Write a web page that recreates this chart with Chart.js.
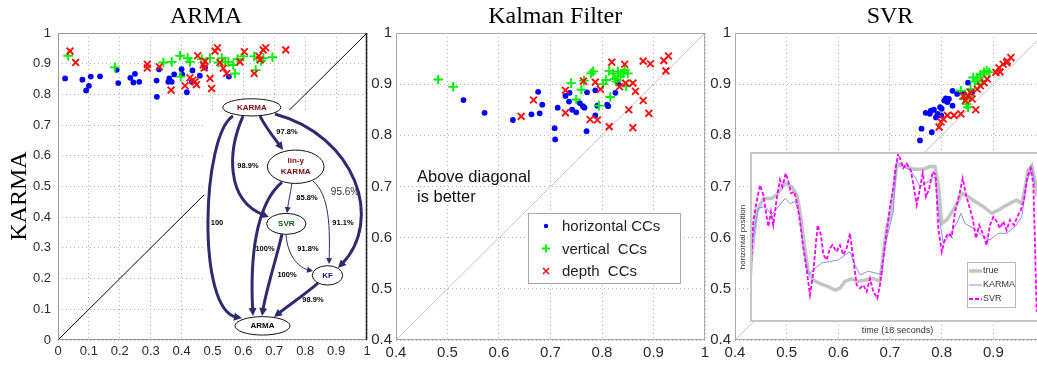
<!DOCTYPE html>
<html>
<head>
<meta charset="utf-8">
<script src="https://cdn.jsdelivr.net/npm/chart.js@4.4.1/dist/chart.umd.min.js"></script>
<style>
  html, body { margin: 0; padding: 0; background: #fff; }
  #wrap { position: relative; width: 1037px; height: 367px; overflow: hidden; }
  canvas { position: absolute; top: 0; }
</style>
</head>
<body>
<div id="wrap">
  <canvas id="armaChart" width="376" height="367" style="left:0px"></canvas>
  <canvas id="kfChart" width="348" height="367" style="left:366px"></canvas>
  <canvas id="svrChart" width="350" height="367" style="left:705px"></canvas>
  <canvas id="insetChart" width="310" height="186" style="left:735px;top:152px"></canvas>
</div>
<script>
// ---- data: [x, y] = [other method CC, KARMA CC] ----
const panelTitles = ["ARMA", "Kalman Filter", "SVR"];
const legendLabels = ["horizontal CCs", "vertical  CCs", "depth  CCs"];

const armaHoriz = [[0.023,0.852],[0.079,0.848],[0.100,0.828],[0.091,0.813],[0.106,0.858],[0.136,0.859],[0.190,0.880],[0.195,0.837],[0.234,0.854],[0.244,0.839],[0.249,0.867],[0.263,0.841],[0.319,0.845],[0.320,0.792],[0.327,0.882],[0.357,0.841],[0.360,0.852],[0.368,0.841],[0.376,0.865],[0.400,0.882],[0.402,0.865],[0.417,0.807],[0.433,0.841],[0.435,0.878],[0.459,0.861],[0.476,0.887],[0.553,0.858]];
const armaVert = [[0.033,0.926],[0.184,0.888],[0.341,0.904],[0.368,0.906],[0.395,0.926],[0.397,0.858],[0.420,0.918],[0.427,0.906],[0.465,0.915],[0.492,0.918],[0.519,0.904],[0.530,0.918],[0.541,0.906],[0.551,0.906],[0.567,0.896],[0.573,0.868],[0.581,0.915],[0.600,0.924],[0.635,0.924],[0.640,0.879],[0.657,0.909],[0.665,0.918],[0.694,0.921]];
const armaDepth = [[0.039,0.941],[0.057,0.904],[0.289,0.898],[0.289,0.886],[0.328,0.890],[0.366,0.814],[0.411,0.828],[0.427,0.854],[0.443,0.841],[0.448,0.832],[0.436,0.846],[0.452,0.926],[0.470,0.896],[0.473,0.886],[0.476,0.908],[0.492,0.852],[0.497,0.819],[0.508,0.941],[0.516,0.952],[0.524,0.904],[0.535,0.885],[0.546,0.868],[0.589,0.906],[0.603,0.939],[0.635,0.868],[0.654,0.912],[0.650,0.925],[0.664,0.945],[0.672,0.952],[0.737,0.945]];

const kfHoriz = [[0.531,0.869],[0.572,0.844],[0.627,0.830],[0.663,0.841],[0.676,0.885],[0.679,0.843],[0.684,0.860],[0.708,0.814],[0.709,0.792],[0.714,0.854],[0.729,0.877],[0.736,0.866],[0.737,0.883],[0.742,0.850],[0.750,0.845],[0.757,0.863],[0.763,0.857],[0.766,0.854],[0.770,0.808],[0.771,0.884],[0.787,0.888],[0.787,0.839],[0.791,0.858],[0.810,0.860],[0.812,0.857],[0.826,0.883],[0.831,0.902]];
const kfVert = [[0.482,0.909],[0.511,0.895],[0.740,0.902],[0.750,0.870],[0.760,0.889],[0.765,0.907],[0.779,0.921],[0.783,0.925],[0.794,0.858],[0.802,0.900],[0.808,0.908],[0.814,0.926],[0.816,0.875],[0.821,0.921],[0.825,0.910],[0.828,0.905],[0.831,0.925],[0.836,0.915],[0.841,0.921],[0.844,0.928],[0.847,0.896],[0.850,0.921]];
const kfDepth = [[0.643,0.837],[0.667,0.869],[0.729,0.888],[0.729,0.844],[0.764,0.906],[0.777,0.831],[0.787,0.904],[0.791,0.830],[0.797,0.890],[0.814,0.817],[0.819,0.943],[0.834,0.895],[0.844,0.939],[0.846,0.902],[0.852,0.850],[0.860,0.902],[0.860,0.815],[0.865,0.886],[0.880,0.868],[0.880,0.945],[0.891,0.843],[0.894,0.940],[0.920,0.946],[0.924,0.926],[0.929,0.955]];

const svrHoriz = [[0.758,0.790],[0.761,0.813],[0.781,0.806],[0.769,0.844],[0.777,0.842],[0.779,0.848],[0.785,0.850],[0.789,0.835],[0.792,0.842],[0.797,0.855],[0.799,0.839],[0.800,0.852],[0.805,0.868],[0.808,0.872],[0.811,0.865],[0.814,0.871],[0.821,0.887],[0.821,0.858],[0.830,0.881],[0.842,0.883],[0.851,0.903],[0.859,0.884]];
const svrVert = [[0.837,0.887],[0.843,0.871],[0.848,0.861],[0.851,0.855],[0.853,0.877],[0.856,0.890],[0.861,0.913],[0.864,0.905],[0.869,0.913],[0.872,0.900],[0.875,0.919],[0.879,0.906],[0.882,0.923],[0.887,0.926],[0.892,0.923]];
const svrDepth = [[0.795,0.816],[0.799,0.826],[0.803,0.832],[0.811,0.839],[0.824,0.839],[0.837,0.842],[0.842,0.877],[0.846,0.868],[0.851,0.877],[0.856,0.884],[0.859,0.871],[0.866,0.850],[0.869,0.890],[0.875,0.897],[0.882,0.903],[0.888,0.910],[0.905,0.923],[0.911,0.932],[0.913,0.924],[0.919,0.939],[0.926,0.942],[0.927,0.945],[0.934,0.952]];

// inset: [time (s), horizontal position]
const insetLabels = ["true", "KARMA", "SVR"];
const insetTrue = [[0,0.515],[0.10,0.566],[0.41,0.650],[0.81,0.676],[1.32,0.676],[1.63,0.683],[1.93,0.696],[2.14,0.705],[2.54,0.699],[2.85,0.683],[3.05,0.650],[3.32,0.585],[3.56,0.533],[3.86,0.517],[4.27,0.510],[4.78,0.504],[5.19,0.497],[5.49,0.501],[5.80,0.514],[6.20,0.519],[6.61,0.514],[7.02,0.517],[7.52,0.520],[7.93,0.514],[8.13,0.566],[8.34,0.618],[8.60,0.650],[8.95,0.741],[9.36,0.740],[9.97,0.733],[10.58,0.733],[10.98,0.738],[11.29,0.738],[11.49,0.702],[11.70,0.627],[12.00,0.634],[12.40,0.653],[12.71,0.670],[12.91,0.686],[13.32,0.679],[13.73,0.670],[14.24,0.660],[14.75,0.647],[15.15,0.653],[15.66,0.663],[16.27,0.673],[16.58,0.666],[16.78,0.696],[16.98,0.731],[17.19,0.740],[17.39,0.709],[17.50,0.680]];
const insetKarma = [[0,0.560],[0.10,0.585],[0.51,0.657],[0.92,0.660],[1.32,0.644],[1.73,0.660],[2.14,0.676],[2.44,0.666],[2.75,0.670],[2.99,0.650],[3.25,0.585],[3.56,0.527],[3.97,0.540],[4.37,0.550],[4.88,0.553],[5.39,0.556],[5.80,0.566],[6.10,0.572],[6.41,0.546],[6.71,0.527],[7.22,0.534],[7.73,0.530],[8.04,0.527],[8.24,0.585],[8.54,0.624],[8.74,0.650],[8.95,0.748],[9.36,0.738],[9.76,0.731],[10.07,0.718],[10.37,0.699],[10.68,0.705],[10.98,0.712],[11.29,0.718],[11.55,0.637],[11.80,0.588],[12.31,0.611],[12.71,0.634],[12.86,0.647],[13.12,0.627],[13.62,0.618],[14.14,0.605],[14.64,0.595],[15.15,0.608],[15.66,0.608],[16.17,0.621],[16.58,0.640],[16.89,0.709],[17.19,0.735],[17.39,0.702]];
const insetSvr = [[0,0.507],[0.20,0.631],[0.41,0.670],[0.61,0.702],[0.81,0.683],[1.02,0.640],[1.12,0.621],[1.28,0.650],[1.42,0.624],[1.63,0.676],[1.83,0.712],[1.97,0.699],[2.18,0.725],[2.34,0.709],[2.50,0.686],[2.70,0.689],[2.85,0.670],[3.05,0.631],[3.25,0.579],[3.46,0.536],[3.66,0.488],[3.86,0.530],[4.01,0.585],[4.13,0.624],[4.33,0.605],[4.48,0.566],[4.68,0.556],[4.88,0.579],[5.03,0.585],[5.29,0.572],[5.49,0.585],[5.69,0.566],[5.90,0.579],[6.10,0.608],[6.30,0.559],[6.51,0.507],[6.71,0.501],[6.91,0.507],[7.12,0.494],[7.32,0.520],[7.52,0.494],[7.77,0.481],[7.93,0.507],[8.13,0.559],[8.34,0.611],[8.54,0.660],[8.74,0.696],[8.85,0.728],[9.05,0.764],[9.36,0.735],[9.56,0.744],[9.81,0.731],[10.01,0.696],[10.17,0.663],[10.33,0.689],[10.54,0.725],[10.74,0.679],[10.94,0.696],[11.15,0.728],[11.33,0.722],[11.49,0.618],[11.70,0.572],[11.90,0.598],[12.10,0.608],[12.31,0.601],[12.51,0.650],[12.77,0.683],[12.98,0.715],[13.18,0.683],[13.38,0.660],[13.59,0.637],[13.79,0.598],[13.99,0.624],[14.20,0.608],[14.44,0.585],[14.64,0.624],[14.85,0.640],[15.05,0.631],[15.25,0.618],[15.46,0.631],[15.66,0.614],[15.86,0.634],[16.11,0.624],[16.31,0.640],[16.52,0.653],[16.72,0.673],[16.92,0.718],[17.13,0.735],[17.29,0.702],[17.39,0.585],[17.49,0.455]];

// diagram texts (pairwise comparison graph drawn inside the ARMA panel)
const diagramNodeNames = [["KARMA"], ["lin-y", "KARMA"], ["SVR"], ["KF"], ["ARMA"]];
const diagramEdgeLabels = ["100", "98.9%", "97.8%", "95.6%", "85.8%", "91.1%", "100%", "100%", "91.8%", "98.9%"];

// ---- drawing helpers ----
Chart.defaults.font.family = "'Liberation Sans', Arial, Helvetica, sans-serif";
const SERIF = "'Liberation Serif', 'Times New Roman', serif";
const SANS = "'Liberation Sans', Arial, sans-serif";
const NAVY = "#2c2c6e";

const pts = (a) => a.map((p) => ({ x: p[0], y: p[1] }));
const fmt = (v) => String(Math.round(v * 10) / 10);

function scatterData(h, v, d, lo, diagColor) {
  return {
    datasets: [
      { label: legendLabels[2], data: pts(d), order: 0, pointStyle: "crossRot", pointRadius: 4.8, borderColor: "#ff1010", backgroundColor: "#ff1010", borderWidth: 1.9 },
      { label: legendLabels[1], data: pts(v), order: 1, pointStyle: "cross", pointRadius: 4.8, borderColor: "#00ee00", backgroundColor: "#00ee00", borderWidth: 1.9 },
      { label: legendLabels[0], data: pts(h), order: 2, pointStyle: "circle", pointRadius: 2.9, borderColor: "#0000ff", backgroundColor: "#0000ff", borderWidth: 0 },
      { label: "diagonal", data: [{ x: lo, y: lo }, { x: 1, y: 1 }], order: 3, showLine: true, pointRadius: 0, borderColor: diagColor, borderWidth: 1 },
    ],
  };
}

function panelOptions(p) {
  const axis = (min, fit, pad) => ({
    type: "linear", min: min, max: 1,
    ticks: { stepSize: 0.1, callback: fmt, font: { size: p.tick }, color: "#2a2a2a", padding: pad, maxRotation: 0, autoSkip: false },
    grid: { color: "#b4b4b4", drawTicks: false },
    border: { display: false, dash: [1, 3] },
    afterFit: fit,
  });
  return {
    responsive: false, animation: false, events: [],
    layout: { padding: { top: 33, right: p.right, bottom: 0, left: 0 } },
    plugins: { legend: { display: false }, tooltip: { enabled: false } },
    scales: {
      x: axis(p.lo, (s) => { s.height = 27; }, 4),
      y: axis(p.lo, (s) => { s.width = p.yw; }, p.pad),
    },
  };
}

function panelText(title, titleX, ylabel) {
  return {
    id: "panelText",
    afterDraw(chart) {
      const { ctx, scales } = chart;
      ctx.save();
      ctx.fillStyle = "#000";
      ctx.font = "24px " + SERIF;
      ctx.textAlign = "center";
      ctx.textBaseline = "alphabetic";
      ctx.fillText(title, scales.x.getPixelForValue(titleX), 23);
      if (ylabel) {
        ctx.translate(20, 196);
        ctx.rotate(-Math.PI / 2);
        ctx.textBaseline = "middle";
        ctx.fillText(ylabel, 0, 0);
      }
      ctx.restore();
    },
  };
}

function frame(color, rightColor) {
  return {
    id: "frame",
    afterDraw(chart) {
      const { ctx, chartArea: a } = chart;
      ctx.save();
      ctx.strokeStyle = color;
      ctx.lineWidth = 1;
      ctx.beginPath();
      ctx.moveTo(a.right, a.top + 0.5); ctx.lineTo(a.left + 0.5, a.top + 0.5);
      ctx.lineTo(a.left + 0.5, a.bottom - 0.5); ctx.lineTo(a.right, a.bottom - 0.5);
      ctx.stroke();
      ctx.strokeStyle = rightColor || color;
      ctx.lineWidth = rightColor ? 1.5 : 1;
      ctx.beginPath();
      ctx.moveTo(a.right - 0.5, a.top); ctx.lineTo(a.right - 0.5, a.bottom);
      ctx.stroke();
      ctx.restore();
    },
  };
}

// comparison graph, laid out in its own pixel frame, anchored on the ARMA axes
const diagramAnchor = [0.4725, 0.749];
const diagramNodes = [
  { x: 47.8, y: -2.7, rx: 29, ry: 8.6, color: "#7b0c0c" },
  { x: 91.7, y: 56.7, rx: 28.3, ry: 16.7, color: "#7b0c0c" },
  { x: 82.3, y: 113.8, rx: 19.7, ry: 10.5, color: "#0b5e0b" },
  { x: 123.5, y: 165.3, rx: 15.2, ry: 9.7, color: "#12127a" },
  { x: 58.5, y: 215.8, rx: 27.5, ry: 9.2, color: "#000" },
];
const diagramEdges = [
  { p: [[29, 6], [-2, 25], [-8, 200], [38, 208]], w: 3, lab: [13, 113] },
  { p: [[39, 6], [24, 40], [21, 90], [65, 107]], w: 3, lab: [44, 56] },
  { p: [[56, 6], [62, 18], [72, 30], [79, 40]], w: 3, lab: [83, 22] },
  { p: [[71, 4], [152, 26], [180, 110], [134, 158]], w: 3, lab: [141, 82], plain: true },
  { p: [[88, 73], [86, 85], [84, 95], [83, 103]], w: 1, lab: [103, 88] },
  { p: [[109, 71], [126, 85], [126, 120], [125, 154]], w: 1, lab: [139, 113] },
  { p: [[78, 72], [51, 95], [46, 150], [49, 206]], w: 3, lab: [61, 139] },
  { p: [[78, 124], [72, 150], [62, 180], [58, 206]], w: 3, lab: [83, 165] },
  { p: [[82, 125], [84, 148], [96, 158], [109, 161]], w: 1, lab: [104, 139] },
  { p: [[114, 173], [100, 185], [85, 195], [70, 207]], w: 3, lab: [109, 190] },
];

function drawArrow(ctx, e) {
  const [p0, c1, c2, p3] = e.p;
  const dx = p3[0] - c2[0], dy = p3[1] - c2[1];
  const L = Math.hypot(dx, dy) || 1;
  const ux = dx / L, uy = dy / L;
  const head = e.w > 2 ? 8 : 6, half = e.w > 2 ? 4 : 3;
  ctx.strokeStyle = NAVY;
  ctx.fillStyle = NAVY;
  ctx.lineWidth = e.w;
  ctx.beginPath();
  ctx.moveTo(p0[0], p0[1]);
  ctx.bezierCurveTo(c1[0], c1[1], c2[0], c2[1], p3[0] - ux * head * 0.7, p3[1] - uy * head * 0.7);
  ctx.stroke();
  ctx.beginPath();
  ctx.moveTo(p3[0], p3[1]);
  ctx.lineTo(p3[0] - ux * head - uy * half, p3[1] - uy * head + ux * half);
  ctx.lineTo(p3[0] - ux * head + uy * half, p3[1] - uy * head - ux * half);
  ctx.closePath();
  ctx.fill();
}

const diagramPlugin = {
  id: "diagram",
  afterDatasetsDraw(chart) {
    const { ctx, scales } = chart;
    const ox = scales.x.getPixelForValue(diagramAnchor[0]);
    const oy = scales.y.getPixelForValue(diagramAnchor[1]);
    ctx.save();
    ctx.translate(ox, oy);
    ctx.fillStyle = "#fff";
    ctx.fillRect(0, 0, 162, 229);
    ctx.lineCap = "butt";
    diagramEdges.forEach((e) => drawArrow(ctx, e));
    diagramNodes.forEach((n, i) => {
      ctx.beginPath();
      ctx.ellipse(n.x, n.y, n.rx, n.ry, 0, 0, Math.PI * 2);
      ctx.fillStyle = "#fff";
      ctx.fill();
      ctx.lineWidth = 1;
      ctx.strokeStyle = "#111";
      ctx.stroke();
      ctx.fillStyle = n.color;
      ctx.font = "bold 8px " + SANS;
      ctx.textAlign = "center";
      ctx.textBaseline = "middle";
      const lines = diagramNodeNames[i];
      lines.forEach((t, k) => ctx.fillText(t, n.x, n.y + (k - (lines.length - 1) / 2) * 11));
    });
    diagramEdges.forEach((e, i) => {
      ctx.font = e.plain ? "10px " + SANS : "bold 7.5px " + SANS;
      ctx.fillStyle = e.plain ? "#333" : "#000";
      ctx.fillText(diagramEdgeLabels[i], e.lab[0], e.lab[1]);
    });
    ctx.restore();
  },
};

function drawMarker(ctx, kind, x, y) {
  ctx.save();
  if (kind === 0) {
    ctx.fillStyle = "#0000ff";
    ctx.beginPath(); ctx.arc(x, y, 2.2, 0, Math.PI * 2); ctx.fill();
  } else if (kind === 1) {
    ctx.strokeStyle = "#00ee00"; ctx.lineWidth = 1.8;
    ctx.beginPath(); ctx.moveTo(x - 4, y); ctx.lineTo(x + 4, y); ctx.moveTo(x, y - 4); ctx.lineTo(x, y + 4); ctx.stroke();
  } else {
    ctx.strokeStyle = "#ff1010"; ctx.lineWidth = 1.6;
    ctx.beginPath(); ctx.moveTo(x - 3, y - 3); ctx.lineTo(x + 3, y + 3); ctx.moveTo(x - 3, y + 3); ctx.lineTo(x + 3, y - 3); ctx.stroke();
  }
  ctx.restore();
}

const kfNotes = {
  id: "kfNotes",
  afterDraw(chart) {
    const { ctx, chartArea: a } = chart;
    ctx.save();
    ctx.fillStyle = "#111";
    ctx.font = "16.5px " + SANS;
    ctx.textAlign = "left";
    ctx.textBaseline = "alphabetic";
    ctx.fillText("Above diagonal", a.left + 21, a.top + 149);
    ctx.fillText("is better", a.left + 21, a.top + 169);
    const bx = a.left + 132, by = a.top + 180, bw = 152, bh = 70;
    ctx.fillStyle = "#fff";
    ctx.fillRect(bx, by, bw, bh);
    ctx.strokeStyle = "#a8a8a8";
    ctx.lineWidth = 1;
    ctx.strokeRect(bx + 0.5, by + 0.5, bw, bh);
    ctx.font = "15px " + SANS;
    ctx.textBaseline = "middle";
    legendLabels.forEach((t, i) => {
      const yy = by + 13 + i * 22.5;
      drawMarker(ctx, i, bx + 18, yy);
      ctx.fillStyle = "#222";
      ctx.fillText(t, bx + 34, yy + 1);
    });
    ctx.restore();
  },
};

// ---- panels ----
new Chart(document.getElementById("armaChart"), {
  type: "scatter",
  data: scatterData(armaHoriz, armaVert, armaDepth, 0, "#000"),
  options: panelOptions({ lo: 0, yw: 58, right: 9, tick: 13, pad: 7 }),
  plugins: [diagramPlugin, frame("#999", "#222"), panelText(panelTitles[0], 0.479, "KARMA")],
});

new Chart(document.getElementById("kfChart"), {
  type: "scatter",
  data: scatterData(kfHoriz, kfVert, kfDepth, 0.4, "#c4c4c4"),
  options: panelOptions({ lo: 0.4, yw: 30, right: 9, tick: 15, pad: 4 }),
  plugins: [frame("#aaa"), kfNotes, panelText(panelTitles[1], 0.709)],
});

new Chart(document.getElementById("svrChart"), {
  type: "scatter",
  data: scatterData(svrHoriz, svrVert, svrDepth, 0.4, "#c4c4c4"),
  options: panelOptions({ lo: 0.4, yw: 30, right: 10, tick: 15, pad: 4 }),
  plugins: [frame("#aaa"), panelText(panelTitles[2], 0.7)],
});

// ---- inset: horizontal position over time ----
const insetFrame = {
  id: "insetFrame",
  beforeDraw(chart) {
    const { ctx, chartArea: a } = chart;
    ctx.save();
    ctx.fillStyle = "#fff";
    ctx.fillRect(a.left, a.top, a.right - a.left, a.bottom - a.top);
    ctx.restore();
  },
  afterDraw(chart) {
    const { ctx, chartArea: a } = chart;
    ctx.save();
    ctx.strokeStyle = "#c6c6c6";
    ctx.lineWidth = 2;
    ctx.strokeRect(a.left + 1, a.top + 1, a.right - a.left, a.bottom - a.top - 2);
    const bx = a.left + 217, by = a.top + 110, bw = 48, bh = 45;
    ctx.fillStyle = "#fff";
    ctx.fillRect(bx, by, bw, bh);
    ctx.strokeStyle = "#b8b8b8";
    ctx.lineWidth = 1;
    ctx.strokeRect(bx + 0.5, by + 0.5, bw, bh);
    ctx.font = "9px " + SANS;
    ctx.textBaseline = "middle";
    chart.data.datasets.slice().reverse().forEach((ds, i) => {
      const yy = by + 9 + i * 14;
      ctx.strokeStyle = ds.borderColor;
      ctx.lineWidth = ds.borderWidth;
      ctx.setLineDash(ds.borderDash || []);
      ctx.beginPath(); ctx.moveTo(bx + 2, yy); ctx.lineTo(bx + 15, yy); ctx.stroke();
      ctx.setLineDash([]);
      ctx.fillStyle = "#333";
      ctx.fillText(ds.label, bx + 16, yy);
    });
    ctx.restore();
  },
};

new Chart(document.getElementById("insetChart"), {
  type: "scatter",
  data: {
    datasets: [
      { label: insetLabels[2], data: pts(insetSvr), showLine: true, pointRadius: 0, borderColor: "#ff00ff", borderWidth: 1.8, borderDash: [4, 2], order: 0 },
      { label: insetLabels[1], data: pts(insetKarma), showLine: true, pointRadius: 0, borderColor: "#8c8cff", borderWidth: 1, order: 1 },
      { label: insetLabels[0], data: pts(insetTrue), showLine: true, pointRadius: 0, borderColor: "#c4c4c4", borderWidth: 3.5, order: 2 },
    ],
  },
  options: {
    responsive: false, animation: false, events: [],
    layout: { padding: 0 },
    plugins: { legend: { display: false }, tooltip: { enabled: false } },
    scales: {
      x: {
        type: "linear", min: 0, max: 18,
        ticks: { display: false }, grid: { display: false }, border: { display: false },
        title: { display: true, text: "time (18 seconds)", font: { size: 9 }, color: "#333", padding: { top: 2, bottom: 2 } },
        afterFit: (s) => { s.height = 16; },
      },
      y: {
        type: "linear", min: 0.435, max: 0.7665,
        ticks: { display: false }, grid: { display: false }, border: { display: false },
        title: { display: true, text: "horizontal position", font: { size: 8 }, color: "#333", padding: { top: 3, bottom: 0 } },
        afterFit: (s) => { s.width = 15; },
      },
    },
  },
  plugins: [insetFrame],
});
</script>
</body>
</html>
